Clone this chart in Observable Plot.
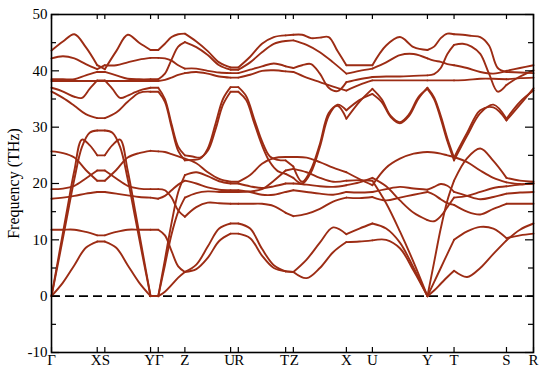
<!DOCTYPE html>
<html><head><meta charset="utf-8">
<script src="https://cdn.jsdelivr.net/npm/d3@7"></script>
<script src="https://cdn.jsdelivr.net/npm/@observablehq/plot@0.6"></script>
<style>body{margin:0;background:#fff}</style>
</head><body><div id="chart"></div>
<script>
// k-path positions of the high-symmetry points and their labels
const kPos = [0, 45.7, 53.3, 99, 106.7, 133.3, 179, 186.7, 234, 241.7, 294.7, 320.7, 375.7, 402.3, 454.7, 481.7];
const kLabels = ["Γ","X","S","Y","Γ","Z","U","R","T","Z","X","U","Y","T","S","R"];
const pairLeft = [1, 3, 6, 8];   // first label of a close pair (XS, YΓ, UR, TZ)
const pairRight = [2, 4, 7, 9];  // second label of a close pair
const yTicks = [-10, 0, 10, 20, 30, 40, 50];
const yMinor = [-5, 5, 15, 25, 35, 45];

// Frequencies (THz) of each band, sampled evenly along each path segment.
// Row order in every segment: a, b, d, e, f, M1, M2, T6, T5, T3, T4, T2, T1
const seg00 = [ // Γ-X
 [0,2.4,5.5,8.6,9.7],[11.8,11.8,11.8,11.4,10.8],[17.3,17.5,17.8,18.2,18.5],[19.0,19.1,19.6,20.9,22.3],[25.7,25.4,24.6,22.4,20.5],
 [0,7.5,15,22.3,27.8,26.8,25.0],[0,6.8,13.8,20.8,26.5,29.0,29.4],[36.3,35.2,33.8,32.3,31.6],[37.0,36.6,36.0,35.4,35.2,36.8,38.3],
 [38.2,38.2,38.2,38.2,38.2],[38.5,38.5,38.5,39.2,39.8],[42.2,42.6,42.2,41.2,40.3],[43.6,45.2,46.5,44.2,41.0]];
const seg01 = [ // X-S
 [9.7,9.7],[10.8,10.8],[18.5,18.5],[22.3,22.3],[20.5,20.5],[25.0,25.0],[29.4,29.4],[31.6,31.6],[38.3,38.3],
 [38.2,38.2],[39.8,39.8],[40.3,41.0],[41.0,40.3]];
const seg02 = [ // S-Y
 [9.7,8.6,5.5,2.4,0],[10.8,11.4,11.8,11.8,11.8],[18.5,18.2,17.9,17.6,17.5],[22.3,20.9,19.6,19.1,19.0],[20.5,22.4,24.6,25.4,25.8],
 [25.0,26.8,27.8,22.3,15,7.5,0],[29.4,29.0,26.5,20.8,13.8,6.8,0],[31.6,32.6,34.5,36.1,36.3],[38.3,36.8,35.2,35.6,36.2,36.7,37.0],
 [38.2,38.2,38.2,38.2,38.2],[39.8,39.2,38.6,38.5,38.5],[41.0,41.0,41.5,42.0,42.3],[40.3,43.5,46.4,45.0,43.7]];
const seg03 = [ // Y-Γ
 [0,0],[11.8,11.8],[17.5,17.3],[19.0,19.0],[25.8,25.7],[0,0],[0,0],[36.3,36.3],[37.0,37.0],
 [38.2,38.2],[38.5,38.5],[42.3,42.3],[43.7,43.7]];
const seg04 = [ // Γ-Z
 [0,0.8,2.0,3.3,4.3],[11.8,10.8,8.0,5.3,4.3],[17.3,17.8,18.8,19.8,20.5],[19.0,18.8,17.5,15.2,14.1],[25.7,25.6,25.2,24.8,24.4],
 [0,6.5,13,18.5,21.5],[0,5.5,11,15,17.5],[36.3,34.5,30.0,25.8,24.1],[37.0,35.0,30.5,26.5,25.0],
 [38.2,38.4,38.8,39.3,39.6],[38.5,39.5,42.0,44.3,45.1],[42.3,42.2,41.8,41.0,40.4],[43.7,44.8,46.0,46.5,46.6]];
const seg05 = [ // Z-U
 [4.3,4.8,6.8,9.8,11.1],[4.3,5.6,8.8,12.0,12.9],[20.5,20.0,19.3,18.9,18.8],[14.1,15.8,16.6,16.5,16.4],[24.4,23.6,22.0,20.8,20.3],
 [21.5,22.0,21.3,20.4,20.0],[17.5,18.3,18.6,18.5,18.5],[24.1,24.2,24.4,26.2,30.5,35.0,37.1],[25.0,24.8,24.6,25.8,29.5,34.0,36.3],
 [39.6,39.8,39.5,39.0,38.8],[45.1,44.2,42.8,41.0,40.2],[40.4,40.4,40.0,39.7,39.6],[46.6,45.2,43.5,41.5,40.6]];
const seg06 = [ // U-R
 [11.1,11.1],[12.9,12.9],[18.8,18.8],[16.4,16.4],[20.3,20.3],[20.0,20.0],[18.5,18.5],[37.1,37.1],[36.3,36.3],
 [38.8,38.8],[40.2,40.2],[39.6,39.6],[40.6,40.6]];
const seg07 = [ // R-T
 [11.1,10.3,7.2,5.0,4.4],[12.9,12.0,8.4,5.5,4.4],[18.8,18.5,18.0,18.0,18.5],[16.4,16.4,16.4,16.0,14.8],[20.3,21.5,23.5,24.5,24.7],
 [20.0,19.5,19.2,19.5,20.0],[18.5,18.6,19.0,20.5,22.3],[37.1,35.5,31.5,27.5,24.8,24.2,24.1],[36.3,34.8,30.8,26.8,23.8,22.2,21.7],
 [38.8,39.3,40.0,40.1,39.9],[40.2,41.5,43.3,44.8,45.3],[39.6,40.2,40.8,41.3,40.8],[40.6,42.5,44.8,46.0,46.3]];
const seg08 = [ // T-Z
 [4.4,4.3],[4.4,4.3],[18.5,18.8],[14.8,14.2],[24.7,24.7],[20.0,20.0],[22.3,22.6],[24.1,23.0],[21.7,21.0],
 [39.9,39.8],[45.3,45.4],[40.8,40.5],[46.3,46.4]];
const seg09 = [ // Z-X
 [4.3,3.2,5.0,7.8,9.6],[4.3,6.5,9.5,12.2,11.0],[18.8,18.5,18.2,18.0,18.5],[14.2,14.6,15.5,16.8,17.5],[24.7,24.6,23.8,22.8,22.0],
 [20.0,19.8,19.5,19.4,19.7],[22.6,22.0,21.0,20.3,20.5],[23.0,20.3,22.5,27.0,32.5,33.8,31.5],[21.0,20.0,22.0,26.5,32.0,34.0,33.0],
 [39.8,38.8,38.0,37.2,36.5],[45.4,44.6,43.3,41.5,39.5],[40.5,41.0,41.2,39.5,37.0,36.4,38.0],[46.4,46.4,45.8,45.9,46.0,43.5,41.0]];
const seg10 = [ // X-U
 [9.6,9.7,9.9],[11.0,12.0,12.9],[18.5,18.4,18.5],[17.5,17.4,17.6],[22.0,20.8,19.7],[19.7,20.2,21.0],[20.5,20.6,20.5],
 [31.5,34.5,36.8],[33.0,34.8,35.9],[36.5,37.5,38.3],[39.5,40.0,40.4],[38.0,38.5,38.9],[41.0,41.0,41.0]];
const seg11 = [ // U-Y
 [9.9,10.0,8.5,4.5,0],[12.9,12.0,9.5,5.0,0],[18.5,19.0,19.4,19.1,18.9],[17.6,17.0,17.5,18.0,18.5],[19.7,22.8,24.4,25.3,25.6],
 [21.0,19.5,17.0,14.8,13.5],[20.5,16.5,11.5,6.0,0],[36.8,35.0,32.0,30.9,32.3,35.3,36.8],[35.9,34.5,31.8,30.7,32.0,35.0,37.0],
 [38.3,38.3,38.3,38.3,38.3],[40.4,41.5,42.8,43.0,42.2],[38.9,39.0,39.0,39.1,39.2],[41.0,44.5,46.0,44.2,43.7]];
const seg12 = [ // Y-T
 [0,1.0,2.2,3.4,4.5],[0,2.5,5.0,7.5,10.0],[18.9,19.4,19.9,19.6,18.5],[18.5,18.0,17.2,16.5,16.2],[25.6,25.5,25.3,25.0,24.7],
 [13.5,13.3,14.2,15.8,17.5],[0,6.0,12.0,17.0,20.5],[36.8,35.0,31.5,27.5,24.1],[37.0,35.3,32.0,28.0,24.6],
 [38.3,38.3,38.3,38.3,38.3],[42.2,41.8,41.6,41.2,41.0],[39.2,39.4,40.5,43.0,44.6],[43.7,44.3,45.8,46.6,46.5]];
const seg13 = [ // T-S
 [4.5,3.4,5.0,7.5,9.9],[10.0,11.5,12.3,12.0,10.3],[18.5,17.8,17.2,17.6,18.2],[16.2,15.0,14.5,15.5,16.4],[24.7,23.8,22.3,21.0,20.2],
 [17.5,17.8,18.5,19.2,19.5],[20.5,24.5,26.2,24.0,21.0],[24.1,28.5,32.5,34.0,31.5],[24.6,29.0,33.0,33.5,31.2],
 [38.3,38.4,38.6,38.6,38.5],[41.0,40.5,39.8,39.5,40.0],[44.6,44.8,44.3,43.0,39.5,36.3,37.5],[46.5,46.4,46.2,46.0,44.5,40.5,39.8]];
const seg14 = [ // S-R
 [9.9,11.8,12.9],[10.3,10.8,11.1],[18.2,18.4,18.5],[16.4,16.4,16.4],[20.2,19.9,20.0],[19.5,19.8,20.0],[21.0,20.5,20.3],
 [31.5,34.5,36.5],[31.2,34.0,36.9],[38.5,38.7,38.8],[40.0,40.5,41.0],[37.5,39.0,40.1],[39.8,39.7,39.6]];

const segs = [seg00,seg01,seg02,seg03,seg04,seg05,seg06,seg07,seg08,seg09,seg10,seg11,seg12,seg13,seg14];
const pts = [];
segs.forEach((rows, s) => rows.forEach((vals, b) => vals.forEach((v, j) => {
  pts.push({k: kPos[s] + (kPos[s + 1] - kPos[s]) * j / (vals.length - 1), f: v, id: s * 100 + b});
})));
const kTable = kPos.map((k, i) => ({k, label: kLabels[i], i}));
const kSingle = kTable.filter(d => !pairLeft.includes(d.i) && !pairRight.includes(d.i));
const kLeft = kTable.filter(d => pairLeft.includes(d.i));
const kRight = kTable.filter(d => pairRight.includes(d.i));

const labelOpts = {x: "k", text: "label", frameAnchor: "bottom", lineAnchor: "top", dy: 2, fontSize: 15};

const chart = Plot.plot({
  width: 550, height: 376,
  marginLeft: 51, marginRight: 17, marginTop: 14, marginBottom: 24,
  x: {domain: [0, 481.7], axis: null},
  y: {domain: [-10, 50]},
  style: {fontFamily: "'Liberation Serif','DejaVu Serif',serif", fontSize: "15px", background: "#fff", color: "#000"},
  marks: [
    Plot.ruleY([0], {stroke: "#000", strokeWidth: 1.7, strokeDasharray: "9,5"}),
    Plot.line(pts, {x: "k", y: "f", z: "id", stroke: "#9c2c14", strokeWidth: 1.9, curve: "catmull-rom"}),
    Plot.frame({stroke: "#000", strokeWidth: 1.6}),
    Plot.tickY(yTicks, {y: d => d, insetRight: 474, stroke: "#000", strokeWidth: 1.2}),
    Plot.tickY(yMinor, {y: d => d, insetRight: 477, stroke: "#000", strokeWidth: 1.2}),
    Plot.tickY(yTicks, {y: d => d, insetLeft: 474, stroke: "#000", strokeWidth: 1.2}),
    Plot.tickY(yMinor, {y: d => d, insetLeft: 477, stroke: "#000", strokeWidth: 1.2}),
    Plot.tickX(kPos, {x: d => d, insetBottom: 333, stroke: "#000", strokeWidth: 1.2}),
    Plot.tickX(kPos, {x: d => d, insetTop: 333, stroke: "#000", strokeWidth: 1.2}),
    Plot.axisY({ticks: yTicks, tickSize: 0, tickPadding: 4, tickFormat: d => String(d), label: null, fontSize: 15}),
    Plot.text(kSingle, labelOpts),
    Plot.text(kLeft, {...labelOpts, dx: -1}),
    Plot.text(kRight, {...labelOpts, dx: 1}),
    Plot.text(["Frequency (THz)"], {frameAnchor: "left", rotate: -90, dx: -38, textAnchor: "middle", fontSize: 16})
  ]
});
document.getElementById("chart").appendChild(chart);
</script>
</body></html>
